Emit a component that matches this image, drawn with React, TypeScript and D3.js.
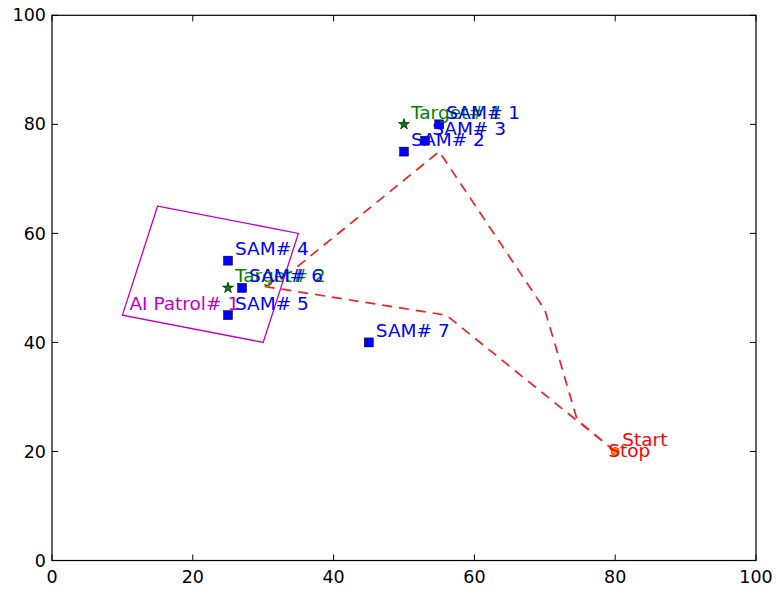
import React from "react";
import * as d3 from "d3";

const W = 776;
const H = 589;
const margin = { left: 52, right: 20, top: 15.3, bottom: 28.5 };

// Threat sites (SAM batteries)
const samNames = ["SAM# 1", "SAM# 2", "SAM# 3", "SAM# 4", "SAM# 5", "SAM# 6", "SAM# 7"];
const samX = [55, 50, 53, 25, 25, 27, 45];
const samY = [80, 75, 77, 55, 45, 50, 40];

// Targets
const targetNames = ["Target# 1", "Target# 2"];
const targetX = [50, 25];
const targetY = [80, 50];

// Patrol area
const patrolName = "AI Patrol# 1";
const patrolX = [15, 35, 30, 10];
const patrolY = [65, 60, 40, 45];

// Route flown from Start back to Stop
const routeX = [80, 74.6, 70, 55, 34, 30, 56, 80];
const routeY = [20, 25.8, 46, 75, 53, 50.3, 45, 20];

const startPoint = { x: 80, y: 20 };

const ticks = [0, 20, 40, 60, 80, 100];

const FONT = "'DejaVu Sans', sans-serif";
const LABEL_SIZE = 18.5;
const TICK_SIZE = 17.5;

export default function App() {
  const x = d3.scaleLinear().domain([0, 100]).range([margin.left, W - margin.right]);
  const y = d3.scaleLinear().domain([0, 100]).range([H - margin.bottom, margin.top]);

  const line = d3
    .line<number>()
    .x((i) => x(routeX[i]))
    .y((i) => y(routeY[i]));

  const patrolPts = patrolX.map((px, i) => `${x(px)},${y(patrolY[i])}`).join(" ");

  const star = d3.symbol().type(d3.symbolStar).size(38)();
  const sq = 9;

  const x0 = x(0), x1 = x(100), y0 = y(0), y1 = y(100);
  const tickLen = 6;

  return (
    <svg
      width={W}
      height={H}
      style={{ position: "absolute", left: 0, top: 0, background: "#fff" }}
      fontFamily={FONT}
    >
      <rect x={0} y={0} width={W} height={H} fill="#fff" />

      {/* route */}
      <path
        d={line(d3.range(routeX.length)) || ""}
        fill="none"
        stroke="#ee2222"
        strokeWidth={1.7}
        strokeDasharray="10,7"
      />

      {/* patrol polygon */}
      <polygon points={patrolPts} fill="none" stroke="#bf00bf" strokeWidth={1.3} />
      <text x={x(patrolX[3] + 1)} y={y(patrolY[3] + 1)} fill="#bf00bf" fontSize={LABEL_SIZE}>
        {patrolName}
      </text>

      {/* SAM sites */}
      {samX.map((sx, i) => (
        <rect
          key={"s" + i}
          x={x(sx) - sq / 2}
          y={y(samY[i]) - sq / 2}
          width={sq}
          height={sq}
          fill="#0000ff"
          stroke="#000"
          strokeWidth={0.5}
        />
      ))}

      {/* targets */}
      {targetX.map((tx, i) => (
        <path
          key={"t" + i}
          d={star || ""}
          transform={`translate(${x(tx)},${y(targetY[i])})`}
          fill="#007f00"
          stroke="#000"
          strokeWidth={0.6}
        />
      ))}
      {targetX.map((tx, i) => (
        <text key={"tl" + i} x={x(tx + 1)} y={y(targetY[i] + 1)} fill="#007f00" fontSize={LABEL_SIZE}>
          {targetNames[i]}
        </text>
      ))}
      {samX.map((sx, i) => (
        <text key={"sl" + i} x={x(sx + 1)} y={y(samY[i] + 1)} fill="#0000ff" fontSize={LABEL_SIZE}>
          {samNames[i]}
        </text>
      ))}

      {/* start / stop */}
      <circle
        cx={x(startPoint.x)}
        cy={y(startPoint.y)}
        r={4}
        fill="#e0a000"
        stroke="#ff0000"
        strokeWidth={0.8}
      />
      <text x={x(startPoint.x + 1)} y={y(startPoint.y + 1)} fill="#ff0000" fontSize={LABEL_SIZE}>
        Start
      </text>
      <text x={x(startPoint.x - 1)} y={y(startPoint.y - 1)} fill="#ff0000" fontSize={LABEL_SIZE}>
        Stop
      </text>

      {/* frame */}
      <rect x={x0} y={y1} width={x1 - x0} height={y0 - y1} fill="none" stroke="#000" strokeWidth={1.2} />

      {/* ticks */}
      {ticks.map((t) => (
        <g key={"xt" + t}>
          <line x1={x(t)} x2={x(t)} y1={y0} y2={y0 - tickLen} stroke="#000" />
          <line x1={x(t)} x2={x(t)} y1={y1} y2={y1 + tickLen} stroke="#000" />
          <text x={x(t)} y={y0 + 22} textAnchor="middle" fontSize={TICK_SIZE} fill="#000">
            {t}
          </text>
        </g>
      ))}
      {ticks.map((t) => (
        <g key={"yt" + t}>
          <line x1={x0} x2={x0 + tickLen} y1={y(t)} y2={y(t)} stroke="#000" />
          <line x1={x1} x2={x1 - tickLen} y1={y(t)} y2={y(t)} stroke="#000" />
          <text x={x0 - 6} y={y(t)} dy="0.35em" textAnchor="end" fontSize={TICK_SIZE} fill="#000">
            {t}
          </text>
        </g>
      ))}
    </svg>
  );
}
